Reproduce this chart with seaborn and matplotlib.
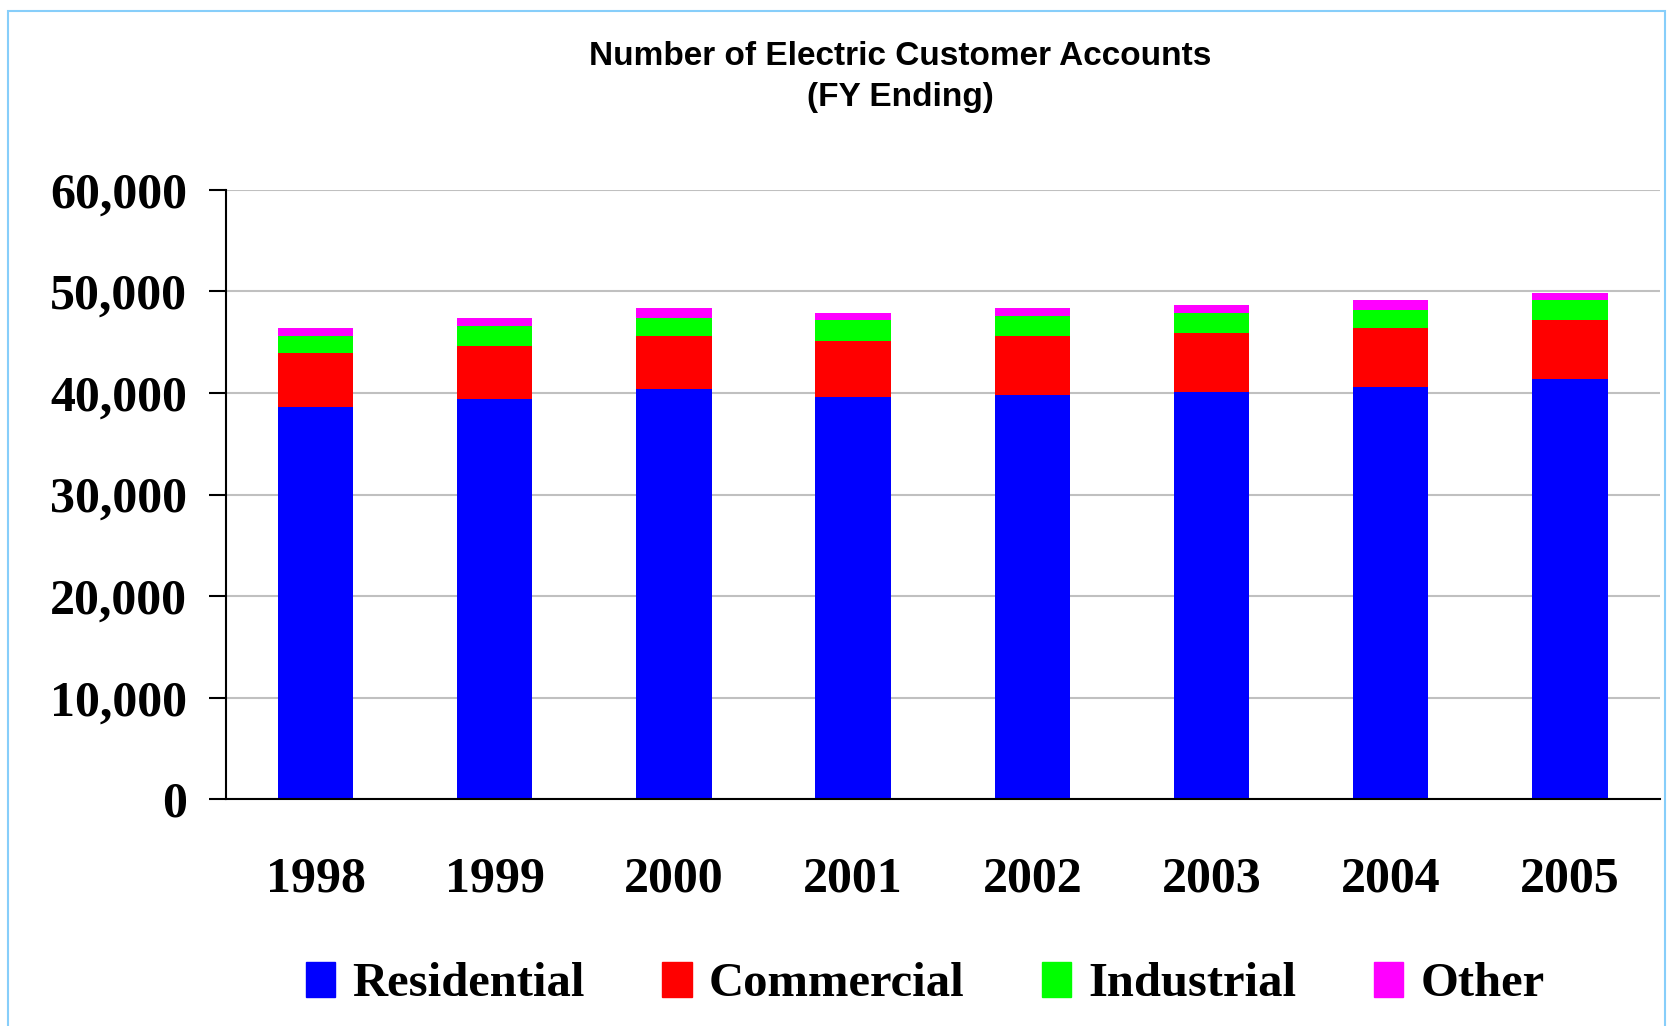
import numpy as np
import pandas as pd
import matplotlib
matplotlib.use("Agg")
import matplotlib.pyplot as plt
import seaborn as sns
from matplotlib.patches import Rectangle

years = ["1998", "1999", "2000", "2001", "2002", "2003", "2004", "2005"]
residential = [38600, 39370, 40400, 39600, 39830, 40100, 40620, 41390]
commercial = [5290, 5240, 5200, 5550, 5770, 5800, 5780, 5770]
industrial = [1710, 2020, 1760, 2010, 2020, 1980, 1750, 2020]
other = [770, 730, 990, 720, 730, 760, 990, 680]

series = ["Residential", "Commercial", "Industrial", "Other"]
colors = ["#0000FF", "#FF0000", "#00FF00", "#FF00FF"]

df = pd.DataFrame({"Year": years, "Residential": residential, "Commercial": commercial,
                   "Industrial": industrial, "Other": other})

sns.set_style("white")
plt.rcParams.update({"text.color": "black", "xtick.color": "black", "ytick.color": "black"})
serif = ["Liberation Serif", "DejaVu Serif"]
sans = ["Liberation Sans", "DejaVu Sans"]

fig = plt.figure(figsize=(16.73, 10.26), dpi=100)
ax = fig.add_axes([0.135, 0.221, 0.857, 0.594])

bottom = np.zeros(len(years))
for name, col in zip(series, colors):
    sns.barplot(data=df, x="Year", y=name, color=col, bottom=bottom, width=0.42,
                saturation=1, ax=ax, linewidth=0)
    bottom = bottom + df[name].to_numpy()

ax.set_ylim(0, 60000)
ax.set_xlim(-0.5, len(years) - 0.5)
ax.set_yticks(range(0, 60001, 10000))
ax.set_yticklabels([f"{v:,}" for v in range(0, 60001, 10000)], fontfamily=serif,
                   fontweight="bold", fontsize=36, color="black")
ax.yaxis.grid(True, color="#c0c0c0", linewidth=1.5)
ax.set_axisbelow(True)
ax.set_xlabel("")
ax.set_ylabel("")

ax.set_xticks(range(len(years)))
ax.set_xticklabels(years, fontfamily=serif, fontweight="bold", fontsize=36, color="black")
ax.set_xticks(np.arange(-0.5, len(years)), minor=True)
ax.tick_params(axis="x", which="major", length=0, pad=41)
ax.tick_params(axis="x", which="minor", length=12, width=1.5, direction="out", color="black")
ax.tick_params(axis="y", length=12, width=1.5, direction="out", color="black", pad=16, left=True)

for s in ["top", "right"]:
    ax.spines[s].set_visible(False)
for s in ["left", "bottom"]:
    ax.spines[s].set_color("black")
    ax.spines[s].set_linewidth(1.5)

fig.text(0.538, 0.925, "Number of Electric Customer Accounts\n(FY Ending)", ha="center", va="center",
         fontfamily=sans, fontweight="bold", fontsize=24, linespacing=1.4, color="black")

handles = [Rectangle((0, 0), 1, 1, color=c) for c in colors]
fig.legend(handles, series, loc="center", bbox_to_anchor=(0.553, 0.041), ncol=4, frameon=False,
           prop={"family": serif, "weight": "bold", "size": 35}, handlelength=0.6,
           handleheight=0.75, columnspacing=1.6, handletextpad=0.35, labelcolor="black")

fig.patches.append(Rectangle((0.005, -0.01), 0.99, 0.999, transform=fig.transFigure, fill=False,
                             edgecolor="#87CEFA", linewidth=1.5))

fig.savefig("out.png", dpi=100)
